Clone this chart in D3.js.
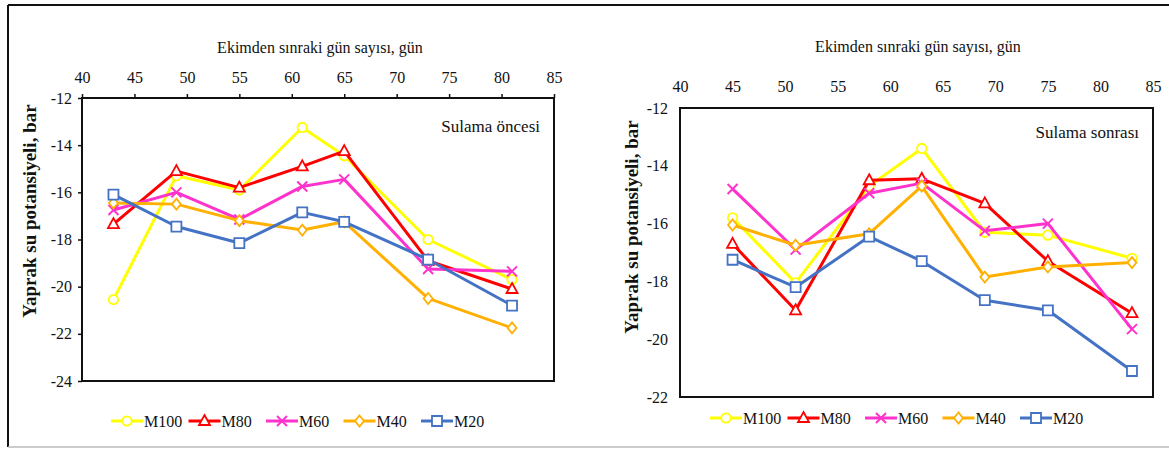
<!DOCTYPE html>
<html>
<head>
<meta charset="utf-8">
<script src="https://cdn.jsdelivr.net/npm/d3@7"></script>
<style>
  body { margin: 0; background: #fff; }
  svg text { font-family: "Liberation Serif", "Times New Roman", Times, "DejaVu Serif", serif; fill: #111; }
</style>
</head>
<body>
<div id="chart"></div>
<script>
// series names and colours
var seriesNames = ["M100", "M80", "M60", "M40", "M20"];
var seriesColors = ["#FFFF00", "#FF0000", "#FF33CC", "#FFB000", "#4472C4"];
var seriesMarkers = ["circle", "triangle", "cross", "diamond", "square"];

// Sulama öncesi
var daysBefore = [43, 49, 55, 61, 65, 73, 81];
var m100Before = [-20.55, -15.3, -15.9, -13.25, -14.45, -18.0, -19.7];
var m80Before  = [-17.35, -15.1, -15.8, -14.9, -14.25, -18.9, -20.1];
var m60Before  = [-16.75, -16.0, -17.15, -15.75, -15.45, -19.25, -19.35];
var m40Before  = [-16.45, -16.5, -17.2, -17.6, -17.25, -20.5, -21.75];
var m20Before  = [-16.1, -17.45, -18.15, -16.85, -17.25, -18.85, -20.8];

// Sulama sonrası
var daysAfter = [45, 51, 58, 63, 69, 75, 83];
var m100After = [-15.8, -18.05, -14.7, -13.4, -16.3, -16.4, -17.2];
var m80After  = [-16.7, -19.0, -14.5, -14.45, -15.3, -17.3, -19.1];
var m60After  = [-14.8, -16.9, -14.95, -14.6, -16.25, -16.0, -19.65];
var m40After  = [-16.05, -16.75, -16.35, -14.7, -17.85, -17.5, -17.35];
var m20After  = [-17.25, -18.2, -16.45, -17.3, -18.65, -19.0, -21.1];

var xTicks = [40, 45, 50, 55, 60, 65, 70, 75, 80, 85];
var yTicksBefore = [-12, -14, -16, -18, -20, -22, -24];
var yTicksAfter = [-12, -14, -16, -18, -20, -22];

var width = 1169, height = 449;
var serif = "'Liberation Serif', 'Times New Roman', Times, 'DejaVu Serif', serif";

var svg = d3.select("#chart").append("svg")
    .attr("width", width)
    .attr("height", height)
    .attr("font-family", serif);

// outer frame
svg.append("line").attr("x1", 8).attr("x2", width).attr("y1", 5).attr("y2", 5)
    .attr("stroke", "#111").attr("stroke-width", 2);
svg.append("line").attr("x1", 8).attr("x2", 8).attr("y1", 5).attr("y2", 447)
    .attr("stroke", "#111").attr("stroke-width", 2);
svg.append("line").attr("x1", 8).attr("x2", width).attr("y1", 447).attr("y2", 447)
    .attr("stroke", "#bbb").attr("stroke-width", 1.5);

function markerPath(type) {
    if (type === "circle") return d3.symbol().type(d3.symbolCircle).size(70)();
    if (type === "triangle") return "M0,-6L5.5,4L-5.5,4Z";
    if (type === "cross") return "M-5,-5L5,5M-5,5L5,-5";
    if (type === "diamond") return "M0,-5.5L4.5,0L0,5.5L-4.5,0Z";
    return "M-5,-5H5V5H-5Z";
}

function drawMarker(g, type, color) {
    g.append("path")
        .attr("d", markerPath(type))
        .attr("fill", type === "cross" ? "none" : "#fff")
        .attr("stroke", color)
        .attr("stroke-width", type === "cross" ? 2 : 1.8);
}

function drawChart(cfg) {
    var x = d3.scaleLinear().domain([40, 85]).range([cfg.left, cfg.right]);
    var y = d3.scaleLinear().domain([cfg.yTicks[0], cfg.yTicks[cfg.yTicks.length - 1]])
        .range([cfg.top, cfg.bottom]);

    var g = svg.append("g");

    // plot box
    g.append("rect")
        .attr("x", cfg.left).attr("y", cfg.top)
        .attr("width", cfg.right - cfg.left).attr("height", cfg.bottom - cfg.top)
        .attr("fill", "none").attr("stroke", "#111").attr("stroke-width", 2);

    var xAxis = d3.axisTop(x).tickValues(xTicks).tickSize(cfg.tick).tickSizeOuter(0)
        .tickPadding(cfg.xPad).tickFormat(d => String(d));
    var gx = g.append("g").attr("transform", `translate(0,${cfg.top})`).call(xAxis);
    var yAxis = d3.axisLeft(y).tickValues(cfg.yTicks).tickSize(cfg.tick).tickSizeOuter(0)
        .tickPadding(cfg.yPad).tickFormat(d => String(d));
    var gy = g.append("g").attr("transform", `translate(${cfg.left},0)`).call(yAxis);
    [gx, gy].forEach(a => {
        a.attr("font-family", serif).attr("font-size", 16);
        a.select(".domain").remove();
        a.selectAll("line").attr("stroke", "#111").attr("stroke-width", 1.5);
        a.selectAll("text").attr("fill", "#111");
    });

    // axis titles
    g.append("text")
        .attr("x", cfg.xTitleX).attr("y", cfg.xTitleY)
        .attr("text-anchor", "middle")
        .attr("font-size", 16)
        .text("Ekimden sınraki gün sayısı, gün");
    g.append("text")
        .attr("transform", `translate(${cfg.yTitleX},${cfg.yTitleY}) rotate(-90)`)
        .attr("text-anchor", "middle")
        .attr("font-size", 19).attr("font-weight", "bold")
        .text("Yaprak su potansiyeli, bar");

    // panel label
    g.append("text")
        .attr("x", cfg.right - 14).attr("y", cfg.labelY)
        .attr("text-anchor", "end")
        .attr("font-size", 17)
        .text(cfg.label);

    var line = d3.line().x(d => x(d[0])).y(d => y(d[1]));

    cfg.series.forEach((vals, i) => {
        var pts = cfg.days.map((d, j) => [d, vals[j]]);
        g.append("path")
            .datum(pts)
            .attr("d", line)
            .attr("fill", "none")
            .attr("stroke", seriesColors[i])
            .attr("stroke-width", 3)
            .attr("stroke-linejoin", "round");
        pts.forEach(p => {
            var m = g.append("g").attr("transform", `translate(${x(p[0])},${y(p[1])})`);
            drawMarker(m, seriesMarkers[i], seriesColors[i]);
        });
    });

    // legend
    seriesNames.forEach((name, i) => {
        var lx = cfg.legendX + i * cfg.legendStep;
        var lg = g.append("g").attr("transform", `translate(${lx},${cfg.legendY})`);
        lg.append("line").attr("x1", 0).attr("x2", 32).attr("y1", 0).attr("y2", 0)
            .attr("stroke", seriesColors[i]).attr("stroke-width", 3);
        var m = lg.append("g").attr("transform", "translate(16,0)");
        drawMarker(m, seriesMarkers[i], seriesColors[i]);
        lg.append("text").attr("x", 33).attr("y", 0).attr("dy", "0.35em")
            .attr("font-size", 16)
            .text(name);
    });
}

drawChart({
    left: 82, right: 554, top: 98, bottom: 381,
    days: daysBefore,
    series: [m100Before, m80Before, m60Before, m40Before, m20Before],
    yTicks: yTicksBefore,
    tick: 4, xPad: 11, yPad: 6,
    xTitleX: 320, xTitleY: 53,
    yTitleX: 36, yTitleY: 211,
    label: "Sulama öncesi", labelY: 132,
    legendX: 111, legendStep: 77.5, legendY: 421
});

drawChart({
    left: 680, right: 1153, top: 108, bottom: 397,
    days: daysAfter,
    series: [m100After, m80After, m60After, m40After, m20After],
    yTicks: yTicksAfter,
    tick: 0, xPad: 16, yPad: 12,
    xTitleX: 918, xTitleY: 52,
    yTitleX: 638, yTitleY: 227,
    label: "Sulama sonrası", labelY: 138,
    legendX: 710, legendStep: 77.5, legendY: 418
});
</script>
</body>
</html>
